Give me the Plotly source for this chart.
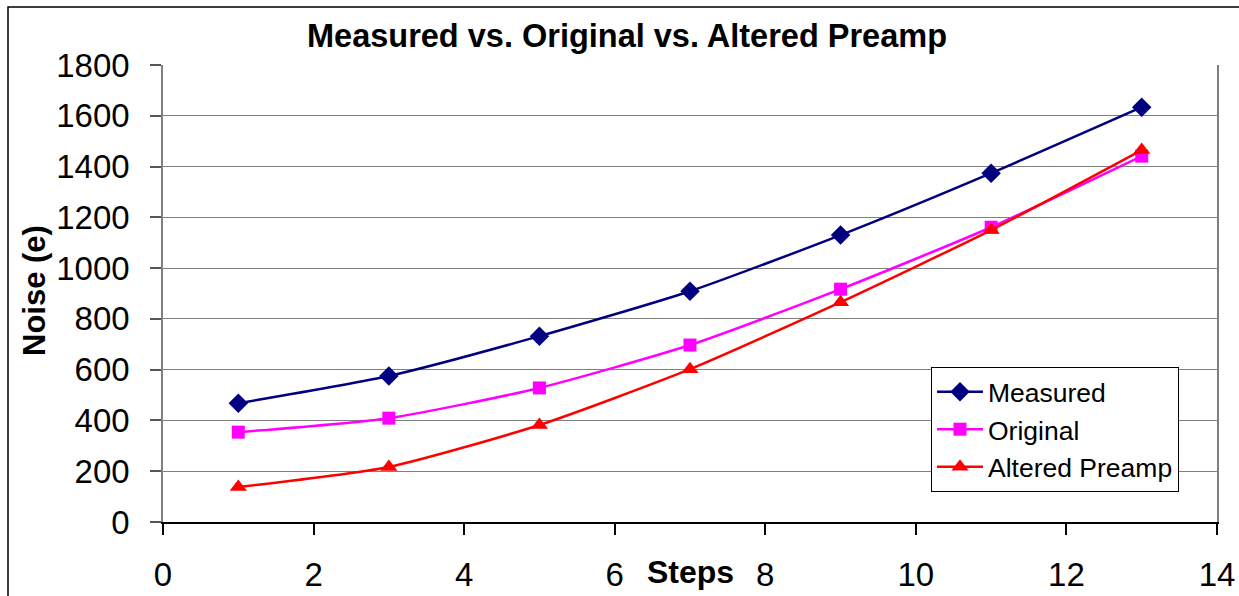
import plotly.graph_objects as go

# Noise measurements per step
steps = [1, 3, 5, 7, 9, 11, 13]
measured = [468, 575, 732, 909, 1130, 1374, 1634]
original = [354, 409, 528, 697, 917, 1161, 1441]
altered_preamp = [138, 217, 382, 602, 866, 1150, 1465]

x_ticks = [0, 2, 4, 6, 8, 10, 12, 14]
y_ticks = [0, 200, 400, 600, 800, 1000, 1200, 1400, 1600, 1800]

FONT = "Liberation Sans, Arial, sans-serif"

fig = go.Figure()

series = [
    ("Measured", measured, "#000080", "diamond", 15),
    ("Original", original, "#FF00FF", "square", 13),
    ("Altered Preamp", altered_preamp, "#FF0000", "triangle-up", 15),
]
for name, vals, color, symbol, size in series:
    fig.add_trace(go.Scatter(
        x=steps, y=vals, name=name, mode="lines+markers",
        line=dict(color=color, width=2.5, shape="spline", smoothing=0.6),
        marker=dict(symbol=symbol, size=size, color=color, line=dict(width=0)),
    ))

fig.update_layout(
    width=1239, height=596,
    margin=dict(l=163, r=22, t=65, b=74, autoexpand=False),
    paper_bgcolor="white", plot_bgcolor="white",
    font=dict(family=FONT, color="black"),
    title=dict(
        text="<b>Measured vs. Original vs. Altered Preamp</b>",
        font=dict(size=32.5, family=FONT, color="black"),
        x=627 / 1239, xanchor="center", y=1 - 36 / 596, yanchor="middle",
    ),
    showlegend=True,
    legend=dict(
        x=(931 - 163) / 1054, y=(522 - 367) / 457,
        xanchor="left", yanchor="top",
        bgcolor="white", bordercolor="black", borderwidth=1,
        font=dict(size=26.5, family=FONT, color="black"),
        itemwidth=46,
    ),
)

fig.update_xaxes(
    range=[0, 14], tickvals=x_ticks, ticktext=[str(v) for v in x_ticks],
    showgrid=False, zeroline=False, automargin=False,
    showline=True, linecolor="black", linewidth=1.5,
    ticks="outside", ticklen=11, tickcolor="black", tickwidth=1.5,
    tickfont=dict(size=33, family=FONT, color="black"),
    ticklabelstandoff=12,
)
fig.update_yaxes(
    range=[0, 1800], tickvals=y_ticks, ticktext=[str(v) for v in y_ticks],
    showgrid=True, gridcolor="#808080", gridwidth=1.2, zeroline=False,
    automargin=False,
    showline=True, linecolor="#808080", linewidth=1.5, mirror=True,
    ticks="outside", ticklen=11, tickcolor="#555555", tickwidth=1.5,
    tickfont=dict(size=33, family=FONT, color="black"),
    ticklabelstandoff=14,
)

# axis titles
fig.add_annotation(
    text="<b>Steps</b>", xref="paper", yref="paper",
    x=(690 - 163) / 1054, y=(522 - 572) / 457, xanchor="center", yanchor="middle",
    showarrow=False, font=dict(size=32, family=FONT, color="black"),
)
fig.add_annotation(
    text="<b>Noise (e)</b>", xref="paper", yref="paper",
    x=(34 - 163) / 1054, y=(522 - 291) / 457, xanchor="center", yanchor="middle",
    textangle=-90, showarrow=False, font=dict(size=31, family=FONT, color="black"),
)

# outer chart frame
fig.add_shape(
    type="rect", xref="paper", yref="paper",
    x0=(8 - 163) / 1054, x1=(1260 - 163) / 1054,
    y0=(522 - 620) / 457, y1=(522 - 7) / 457,
    line=dict(color="black", width=1.5), fillcolor="rgba(0,0,0,0)", layer="below",
)

fig.write_html("out.html")
